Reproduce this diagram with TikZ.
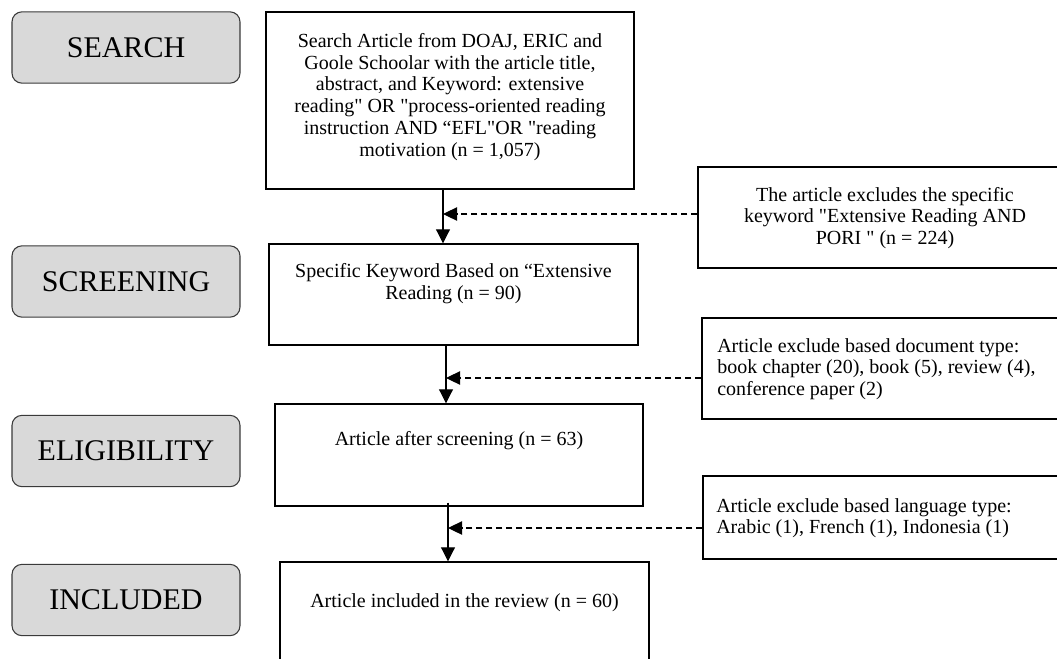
\documentclass[tikz,border=0pt]{standalone}
\usepackage{fontspec}
\setmainfont{Liberation Serif}[Ligatures=TeXOff]
\usetikzlibrary{arrows.meta,calc}
\definecolor{lblgray}{HTML}{D9D9D9}
\definecolor{lbldraw}{HTML}{3A3A3A}
\begin{document}
\begin{tikzpicture}[x=0.75pt,y=-0.75pt,
  lbl/.style={draw=lbldraw, fill=lblgray, line width=0.8pt, rounded corners=7.5pt,
    minimum width=171pt, minimum height=53.5pt, inner sep=0pt,
    font=\fontsize{22.5}{27}\selectfont},
  box/.style={draw=black, line width=1.1pt, inner sep=0pt},
  txt/.style={font=\fontsize{15}{16.4}\selectfont, align=center, inner sep=0pt},
  txtl/.style={font=\fontsize{15}{16.2}\selectfont, align=left, inner sep=0pt, anchor=west},
  arr/.style={line width=0.8pt, -{Triangle[length=10.5pt,width=10.5pt]}},
  dsh/.style={line width=0.8pt, dash pattern=on 4.5pt off 3pt, -{Triangle[length=10.5pt,width=10pt]}}
]
\useasboundingbox (0,0) rectangle (1057,658);
\clip (0,0) rectangle (1057,658);

% stage labels
\node[lbl] (lsearch) at (126,47.5) {SEARCH};
\node[lbl] (lscreen) at (126,281.5) {SCREENING};
\node[lbl] (lelig) at (126,451) {ELIGIBILITY};
\node[lbl] (lincl) at (126,600) {INCLUDED};

% main boxes
\node[box, minimum width=276pt, minimum height=132.75pt] (search) at (450,100.5) {};
\node[txt] (searcht) at (450,97) {Search Article from DOAJ, ERIC and\\Goole Schoolar with the article title,\\abstract, and Keyword: extensive\\reading" OR "process-oriented reading\\instruction AND “EFL"OR "reading\\motivation (n = 1,057)};

\node[box, minimum width=276.75pt, minimum height=75.75pt] (screen) at (453.5,294.5) {};
\node[txt] (screent) at (453.5,284) {Specific Keyword Based on “Extensive\\Reading (n = 90)};

\node[box, minimum width=276pt, minimum height=76.5pt] (elig) at (459,455) {};
\node[txt] (eligt) at (459,441) {Article after screening (n = 63)};

\node[box, minimum width=276.75pt, minimum height=103.5pt] (incl) at (464.5,631) {};
\node[txt] (inclt) at (464.5,603) {Article included in the review (n = 60)};

% exclusion boxes
\node[box, minimum width=280.5pt, minimum height=75.75pt] (ex1) at (885,217.5) {};
\node[txt] (ex1t) at (885,218) {The article excludes the specific\\keyword "Extensive Reading AND\\PORI " (n = 224)};

\node[box, minimum width=277.5pt, minimum height=75.75pt] (ex2) at (887,368.5) {};
\node[txtl] (ex2t) at (717,369) {Article exclude based document type:\\book chapter (20), book (5), review (4),\\conference paper (2)};

\node[box, minimum width=276.75pt, minimum height=62.25pt] (ex3) at (887.5,517.5) {};
\node[txtl] (ex3t) at (716,518) {Article exclude based language type:\\Arabic (1), French (1), Indonesia (1)};

% junctions
\coordinate (j1) at (443,214);
\coordinate (j2) at (446,378);
\coordinate (j3) at (448,528);

% flow arrows
\draw[arr] (search.south -| j1) -- (screen.north -| j1);
\draw[arr] (screen.south -| j2) -- (elig.north -| j2);
\draw[arr] ([yshift=3pt]elig.south -| j3) -- (incl.north -| j3);

% exclusion arrows
\draw[dsh] (ex1.west |- j1) -- (j1);
\draw[dsh] (ex2.west |- j2) -- (j2);
\draw[dsh] (ex3.west |- j3) -- (j3);
\end{tikzpicture}
\end{document}
